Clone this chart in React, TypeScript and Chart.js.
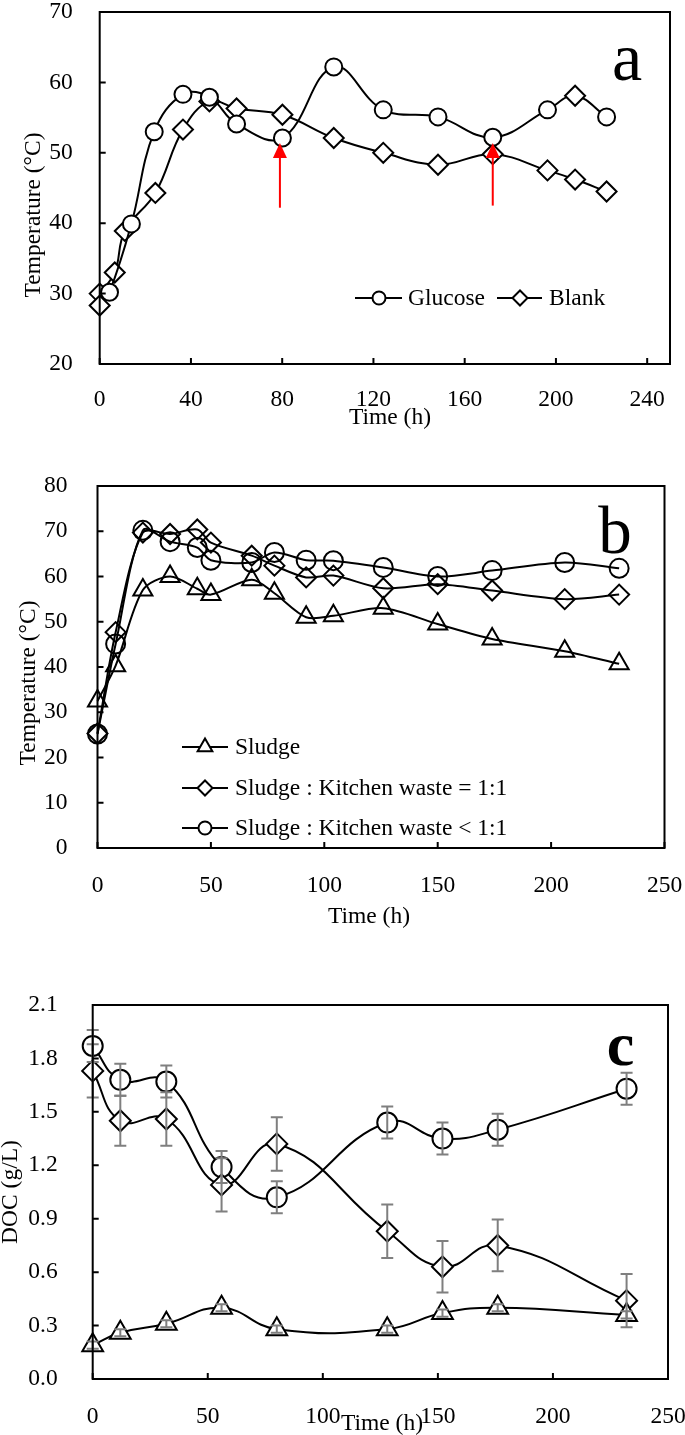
import React, { useEffect, useRef } from 'react';
import { Chart, registerables } from 'chart.js';

Chart.register(...registerables);

const FONT = "'Liberation Serif', 'Times New Roman', serif";
const FONT_SIZE = 23.5;

// ---------- panel a : temperature, glucose vs blank ----------
const timeTicksA = [0, 40, 80, 120, 160, 200, 240];
const tempTicksA = [20, 30, 40, 50, 60, 70];
const glucoseTime = [0, 4.3, 13.9, 23.9, 36.5, 48.1, 60, 80.1, 102.6, 124.3, 148.3, 172.3, 196.3, 208.4, 222.2];
const glucoseTemp = [28.3, 30.2, 39.9, 53.0, 58.3, 57.9, 54.1, 52.1, 62.2, 56.1, 55.1, 52.2, 56.1, 58.1, 55.1];
const blankTime = [0, 6.6, 11, 24.4, 36.5, 48.1, 60, 80.1, 102.6, 124.3, 148.3, 172.3, 196.3, 208.4, 222.2];
const blankTemp = [30.0, 33.0, 38.9, 44.3, 53.3, 57.3, 56.3, 55.4, 52.1, 50.0, 48.3, 49.8, 47.5, 46.2, 44.5];
// glucose additions (red arrows)
const arrowTime = [79, 172.3];
const arrowFrom = [42.2, 42.5];
const arrowTo = [51.4, 51.4];

// ---------- panel b : temperature, sludge / kitchen waste ----------
const timeTicksB = [0, 50, 100, 150, 200, 250];
const tempTicksB = [0, 10, 20, 30, 40, 50, 60, 70, 80];
const timeB = [0, 8, 20, 32, 44, 50, 68, 78, 92, 104, 126, 150, 174, 206, 230];
const sludgeTemp = [32.5, 40.3, 57.0, 60.0, 57.3, 56.0, 59.3, 56.3, 51.0, 51.3, 53.0, 49.5, 46.2, 43.5, 40.7];
const kwEqualTemp = [25.3, 47.7, 69.7, 69.4, 70.4, 67.5, 64.6, 62.4, 59.8, 60.2, 57.4, 58.3, 56.9, 55.0, 56.0];
const kwLessTemp = [25.2, 45.1, 70.2, 67.7, 66.4, 63.6, 63.1, 65.3, 63.6, 63.5, 62.0, 60.0, 61.3, 63.1, 61.8];

// ---------- panel c : DOC ----------
const timeTicksC = [0, 50, 100, 150, 200, 250];
const docTicksC = [0, 0.3, 0.6, 0.9, 1.2, 1.5, 1.8, 2.1];
const timeC = [0, 12, 32, 56, 80, 128, 152, 176, 232];
const docSludge = [0.19, 0.26, 0.31, 0.40, 0.28, 0.28, 0.37, 0.40, 0.36];
const docSludgeErr = [0.02, 0.02, 0.02, 0.02, 0.02, 0.02, 0.02, 0.02, 0.02];
const docKwEqual = [1.73, 1.45, 1.46, 1.09, 1.32, 0.83, 0.63, 0.75, 0.44];
const docKwEqualErr = [0.15, 0.14, 0.15, 0.15, 0.15, 0.15, 0.145, 0.145, 0.15];
const docKwLess = [1.87, 1.68, 1.67, 1.19, 1.02, 1.44, 1.35, 1.40, 1.63];
const docKwLessErr = [0.09, 0.09, 0.09, 0.09, 0.09, 0.09, 0.09, 0.09, 0.09];

type Marker = 'circle' | 'rectRot' | 'triangle';
type Pt = { x: number; y: number };
const zip = (xs: number[], ys: number[]): Pt[] => xs.map((x, i) => ({ x, y: ys[i] }));

type LegendItem = { label: string; marker: Marker; r: number; y: number; x1: number; x2: number; mx: number; tx: number };
type Label = { text: string; x: number; y: number; font: string; rotate?: boolean; baseline?: CanvasTextBaseline };

type Panel = {
  top: number;
  height: number;
  area: { left: number; right: number; top: number; bottom: number };
  xMax: number;
  yMin: number;
  yMax: number;
  xTicks: number[];
  yTicks: number[];
  yDigits: number;
  xPad: number;
  yPad: number;
  datasets: any[];
  errors?: { ds: number; err: number[] }[];
  arrows?: boolean;
  legend: LegendItem[];
  labels: Label[];
};

const series = (data: Pt[], marker: Marker | Marker[], radius: number | number[], tension: number, fill = '#fff') => ({
  data,
  borderColor: '#000',
  borderWidth: 2,
  pointStyle: marker,
  pointRadius: radius,
  pointBorderWidth: 2,
  pointBorderColor: '#000',
  pointBackgroundColor: fill,
  tension,
  fill: false,
  clip: false,
});

function drawMarker(ctx: CanvasRenderingContext2D, m: Marker, x: number, y: number, r: number, fill: string) {
  ctx.beginPath();
  if (m === 'circle') {
    ctx.arc(x, y, r, 0, Math.PI * 2);
  } else if (m === 'rectRot') {
    ctx.moveTo(x - r, y);
    ctx.lineTo(x, y - r);
    ctx.lineTo(x + r, y);
    ctx.lineTo(x, y + r);
    ctx.closePath();
  } else {
    ctx.moveTo(x, y - r);
    ctx.lineTo(x + 0.866 * r, y + 0.5 * r);
    ctx.lineTo(x - 0.866 * r, y + 0.5 * r);
    ctx.closePath();
  }
  ctx.fillStyle = fill;
  ctx.fill();
  ctx.stroke();
}

const decor = (p: Panel) => ({
  id: 'decor',
  afterDatasetsDraw(chart: any) {
    const ctx: CanvasRenderingContext2D = chart.ctx;
    const xs = chart.scales.x;
    const ys = chart.scales.y;
    const { left, right, top, bottom } = chart.chartArea;
    ctx.save();

    // error bars
    (p.errors || []).forEach(({ ds, err }) => {
      const meta = chart.getDatasetMeta(ds);
      const vals = p.datasets[ds].data as Pt[];
      ctx.strokeStyle = '#7f7f7f';
      ctx.lineWidth = 2;
      meta.data.forEach((el: any, i: number) => {
        const y1 = ys.getPixelForValue(vals[i].y + err[i]);
        const y2 = ys.getPixelForValue(vals[i].y - err[i]);
        ctx.beginPath();
        ctx.moveTo(el.x, y1);
        ctx.lineTo(el.x, y2);
        ctx.moveTo(el.x - 6, y1);
        ctx.lineTo(el.x + 6, y1);
        ctx.moveTo(el.x - 6, y2);
        ctx.lineTo(el.x + 6, y2);
        ctx.stroke();
      });
    });

    // red arrows
    if (p.arrows) {
      ctx.strokeStyle = '#ff0000';
      ctx.fillStyle = '#ff0000';
      ctx.lineWidth = 2;
      arrowTime.forEach((t, i) => {
        const x = xs.getPixelForValue(t);
        const yb = ys.getPixelForValue(arrowFrom[i]);
        const yt = ys.getPixelForValue(arrowTo[i]);
        ctx.beginPath();
        ctx.moveTo(x, yb);
        ctx.lineTo(x, yt + 12);
        ctx.stroke();
        ctx.beginPath();
        ctx.moveTo(x, yt);
        ctx.lineTo(x + 7, yt + 15);
        ctx.lineTo(x - 7, yt + 15);
        ctx.closePath();
        ctx.fill();
      });
    }

    // frame and inside ticks
    ctx.strokeStyle = '#000';
    ctx.lineWidth = 2;
    ctx.strokeRect(left, top, right - left, bottom - top);
    ctx.beginPath();
    p.xTicks.forEach((v) => {
      const x = xs.getPixelForValue(v);
      ctx.moveTo(x, bottom);
      ctx.lineTo(x, bottom - 6);
    });
    p.yTicks.forEach((v) => {
      const y = ys.getPixelForValue(v);
      ctx.moveTo(left, y);
      ctx.lineTo(left + 6, y);
    });
    ctx.stroke();

    // legend
    ctx.font = `${FONT_SIZE}px ${FONT}`;
    ctx.textBaseline = 'middle';
    ctx.textAlign = 'left';
    p.legend.forEach((it) => {
      ctx.strokeStyle = '#000';
      ctx.lineWidth = 2;
      ctx.beginPath();
      ctx.moveTo(it.x1, it.y);
      ctx.lineTo(it.x2, it.y);
      ctx.stroke();
      drawMarker(ctx, it.marker, it.mx, it.y, it.r, '#fff');
      ctx.fillStyle = '#000';
      ctx.fillText(it.label, it.tx, it.y + 1);
    });

    // titles and panel letter
    ctx.fillStyle = '#000';
    ctx.textAlign = 'center';
    p.labels.forEach((l) => {
      ctx.save();
      ctx.font = l.font;
      ctx.textBaseline = l.baseline || 'middle';
      ctx.translate(l.x, l.y);
      if (l.rotate) ctx.rotate(-Math.PI / 2);
      ctx.fillText(l.text, 0, 0);
      ctx.restore();
    });
    ctx.restore();
  },
});

const titleFont = `${FONT_SIZE}px ${FONT}`;

const panelA: Panel = {
  top: 0,
  height: 445,
  area: { left: 99.7, right: 670, top: 10, bottom: 364 },
  xMax: 250,
  yMin: 20,
  yMax: 70,
  xTicks: timeTicksA,
  yTicks: tempTicksA,
  yDigits: 0,
  xPad: 14,
  yPad: 19,
  datasets: [
    series(
      zip(glucoseTime, glucoseTemp),
      glucoseTime.map((_, i) => (i === 0 || i === 13 ? 'rectRot' : 'circle')),
      glucoseTime.map((_, i) => (i === 0 || i === 13 ? 10 : 8.5)),
      0.4,
    ),
    series(zip(blankTime, blankTemp), 'rectRot', 10, 0.4),
  ],
  arrows: true,
  legend: [
    { label: 'Glucose', marker: 'circle', r: 6.5, y: 298, x1: 355, x2: 402, mx: 379, tx: 408 },
    { label: 'Blank', marker: 'rectRot', r: 7.5, y: 298, x1: 497, x2: 542, mx: 520, tx: 549 },
  ],
  labels: [
    { text: 'Temperature (°C)', x: 34, y: 215, font: titleFont, rotate: true },
    { text: 'Time (h)', x: 390, y: 418, font: titleFont },
    { text: 'a', x: 627, y: 80, font: `68px ${FONT}`, baseline: 'alphabetic' },
  ],
};

const panelB: Panel = {
  top: 445,
  height: 495,
  area: { left: 97.5, right: 664.5, top: 41, bottom: 403 },
  xMax: 250,
  yMin: 0,
  yMax: 80,
  xTicks: timeTicksB,
  yTicks: tempTicksB,
  yDigits: 0,
  xPad: 16,
  yPad: 22,
  datasets: [
    series(zip(timeB, sludgeTemp), 'triangle', 11, 0.3, 'rgba(0,0,0,0)'),
    series(zip(timeB, kwEqualTemp), 'rectRot', 10, 0.3, 'rgba(0,0,0,0)'),
    series(zip(timeB, kwLessTemp), 'circle', 9.5, 0.3, 'rgba(0,0,0,0)'),
  ],
  legend: [
    { label: 'Sludge', marker: 'triangle', r: 8.5, y: 302, x1: 182, x2: 228, mx: 205, tx: 235 },
    { label: 'Sludge : Kitchen waste = 1:1', marker: 'rectRot', r: 7.5, y: 343, x1: 182, x2: 228, mx: 205, tx: 235 },
    { label: 'Sludge : Kitchen waste < 1:1', marker: 'circle', r: 6.5, y: 383, x1: 182, x2: 228, mx: 205, tx: 235 },
  ],
  labels: [
    { text: 'Temperature (°C)', x: 28.5, y: 238, font: titleFont, rotate: true },
    { text: 'Time (h)', x: 369, y: 472, font: titleFont },
    { text: 'b', x: 615, y: 108, font: `67px ${FONT}`, baseline: 'alphabetic' },
  ],
};

const panelC: Panel = {
  top: 940,
  height: 495,
  area: { left: 92.7, right: 668, top: 65, bottom: 439 },
  xMax: 250,
  yMin: 0,
  yMax: 2.1,
  xTicks: timeTicksC,
  yTicks: docTicksC,
  yDigits: 1,
  xPad: 16,
  yPad: 27,
  datasets: [
    series(zip(timeC, docSludge), 'triangle', 12, 0.45),
    series(zip(timeC, docKwEqual), 'rectRot', 10.5, 0.45),
    series(zip(timeC, docKwLess), 'circle', 10, 0.45),
  ],
  errors: [
    { ds: 0, err: docSludgeErr },
    { ds: 1, err: docKwEqualErr },
    { ds: 2, err: docKwLessErr },
  ],
  legend: [],
  labels: [
    { text: 'DOC (g/L)', x: 11, y: 252, font: titleFont, rotate: true },
    { text: 'Time (h)', x: 382, y: 484, font: titleFont },
    { text: 'c', x: 620.5, y: 125, font: `bold 62px ${FONT}`, baseline: 'alphabetic' },
  ],
};

function PanelChart({ panel }: { panel: Panel }) {
  const canvasRef = useRef<HTMLCanvasElement>(null);

  useEffect(() => {
    if (!canvasRef.current) return;
    const p = panel;
    const tickFont = { family: FONT, size: FONT_SIZE };
    const chart = new Chart(canvasRef.current, {
      type: 'line',
      data: { datasets: p.datasets },
      options: {
        animation: false,
        responsive: false,
        layout: { padding: { top: p.area.top, right: 685 - p.area.right, left: 0, bottom: 0 } },
        plugins: { legend: { display: false }, tooltip: { enabled: false }, title: { display: false } },
        scales: {
          x: {
            type: 'linear',
            min: 0,
            max: p.xMax,
            grid: { display: false },
            border: { display: false },
            afterBuildTicks: (s: any) => {
              s.ticks = p.xTicks.map((value) => ({ value }));
            },
            afterFit: (s: any) => {
              s.height = p.height - p.area.bottom;
              s.paddingLeft = 0;
              s.paddingRight = 0;
            },
            ticks: { font: tickFont, color: '#000', padding: p.xPad, maxRotation: 0, autoSkip: false },
          },
          y: {
            type: 'linear',
            min: p.yMin,
            max: p.yMax,
            grid: { display: false },
            border: { display: false },
            afterBuildTicks: (s: any) => {
              s.ticks = p.yTicks.map((value) => ({ value }));
            },
            afterFit: (s: any) => {
              s.width = p.area.left;
              s.paddingTop = 0;
              s.paddingBottom = 0;
            },
            ticks: {
              font: tickFont,
              color: '#000',
              padding: p.yPad,
              autoSkip: false,
              callback: (v: any) => Number(v).toFixed(p.yDigits),
            },
          },
        },
      } as any,
      plugins: [decor(p)],
    });
    return () => chart.destroy();
  }, [panel]);

  return (
    <canvas
      ref={canvasRef}
      width={685}
      height={panel.height}
      style={{ position: 'absolute', left: 0, top: panel.top, width: 685, height: panel.height, display: 'block' }}
    />
  );
}

export default function App() {
  return (
    <div style={{ position: 'absolute', left: 0, top: 0, width: 685, height: 1435, background: '#fff' }}>
      <PanelChart panel={panelA} />
      <PanelChart panel={panelB} />
      <PanelChart panel={panelC} />
    </div>
  );
}
